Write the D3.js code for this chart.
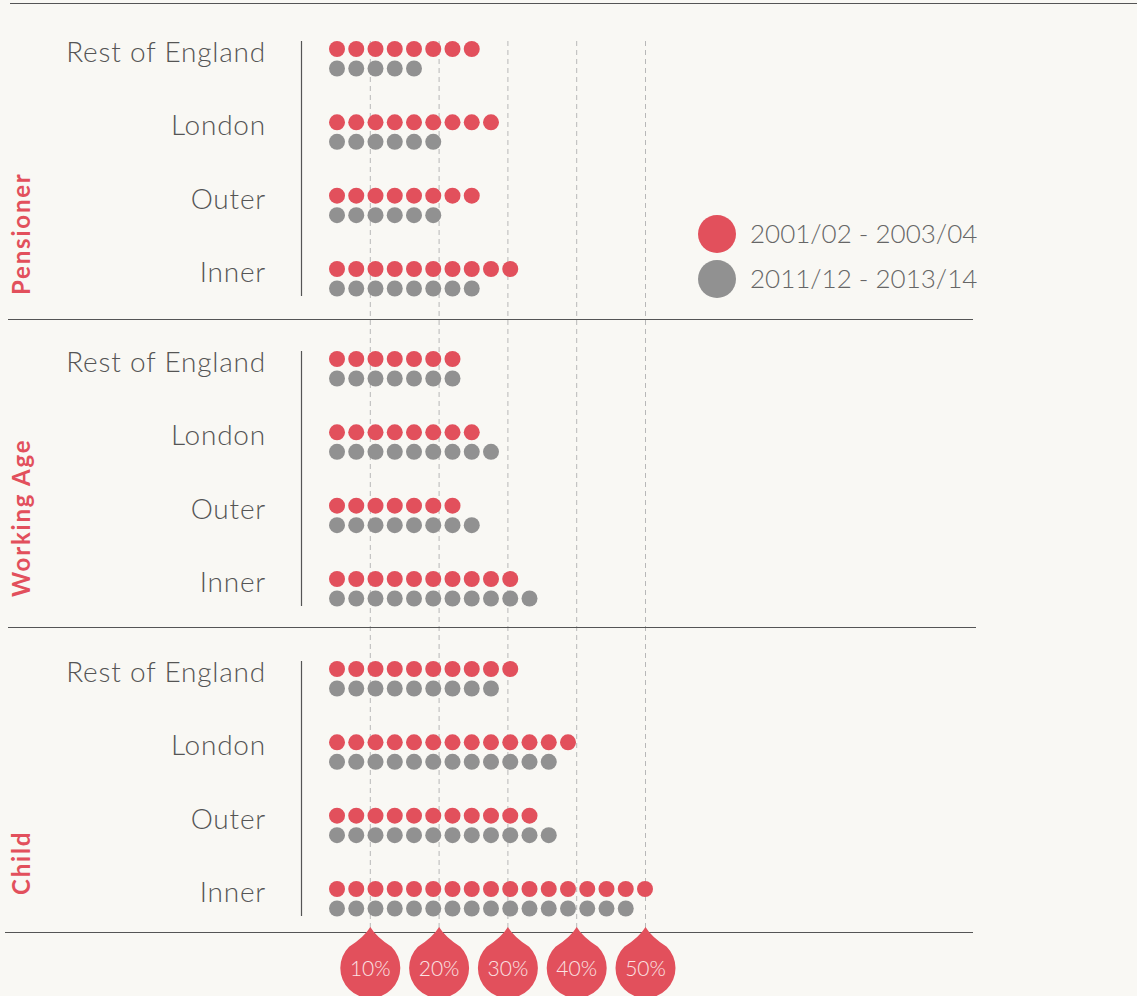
<!DOCTYPE html>
<html>
<head>
<meta charset="utf-8">
<script src="https://cdn.jsdelivr.net/npm/d3@7/dist/d3.min.js"></script>
<style>
  body { margin: 0; background: #f9f8f4; }
  svg { display: block; font-family: Lato, "Open Sans", sans-serif; }
</style>
</head>
<body>
<svg width="1137" height="996"></svg>
<script>
// ---- data ----
var groups = ['Pensioner', 'Working Age', 'Child'];
var regions = ['Rest of England', 'London', 'Outer', 'Inner'];
var periods = ['2001/02 - 2003/04', '2011/12 - 2013/14'];
var percentTicks = [10, 20, 30, 40, 50];

// number of dots per region (Rest of England, London, Outer, Inner)
var pensionerEarly = [8, 9, 8, 10];
var pensionerLate = [5, 6, 6, 8];
var workingEarly = [7, 8, 7, 10];
var workingLate = [7, 9, 8, 11];
var childEarly = [10, 13, 11, 17];
var childLate = [9, 12, 12, 16];

var color = {
  early: '#e2505c',
  late: '#919191',
  line: '#555',
  grid: '#b8b8b8',
  label: '#555',
  legend: '#666'
};

// ---- layout ----
var groupLabelEnd = [295, 597, 895];

var series = [
  [pensionerEarly, pensionerLate],
  [workingEarly, workingLate],
  [childEarly, childLate]
];

var svg = d3.select('svg');

var x = d3.scaleLinear().domain([0, 50]).range([301, 645]);
var dotX = d3.scaleLinear().domain([0, 16]).range([337, 645]);
var groupY = d3.scalePoint().domain(groups).range([0, 620]);
var rowY = d3.scalePoint().domain(regions).range([49, 269]);
var periodY = d3.scalePoint().domain(periods).range([0, 19.5]);

// top rule
svg.append('line').attr('x1', 10).attr('x2', 1137).attr('y1', 3.5).attr('y2', 3.5)
  .attr('stroke', color.line).attr('stroke-width', 1.2);

// dashed grid
svg.selectAll('.grid').data(percentTicks).enter().append('line')
  .attr('class', 'grid')
  .attr('x1', d => x(d) + 0.5).attr('x2', d => x(d) + 0.5)
  .attr('y1', 41).attr('y2', 930)
  .attr('stroke', color.grid).attr('stroke-dasharray', '5,4');

// separators under each group
var sepEnds = [[8, 973], [8, 976], [5, 973]];
groups.forEach(function(g, gi) {
  var oy = groupY(g);
  var gEl = svg.append('g').attr('transform', 'translate(0,' + oy + ')');

  gEl.append('line').attr('x1', 301.5).attr('x2', 301.5).attr('y1', 41).attr('y2', 296)
    .attr('stroke', color.line).attr('stroke-width', 1.2);

  var sepY = [319.5, 627.5, 932.5][gi];
  svg.append('line').attr('x1', sepEnds[gi][0]).attr('x2', sepEnds[gi][1])
    .attr('y1', sepY).attr('y2', sepY)
    .attr('stroke', color.line).attr('stroke-width', 1.2);

  svg.append('text')
    .attr('transform', 'translate(30,' + groupLabelEnd[gi] + ') rotate(-90)')
    .attr('text-anchor', 'start')
    .attr('fill', color.early)
    .attr('font-size', 24).attr('font-weight', 700)
    .attr('letter-spacing', 1.8)
    .text(g);

  regions.forEach(function(r, ri) {
    var ry = rowY(r);
    gEl.append('text')
      .attr('x', 266).attr('y', ry + 13)
      .attr('text-anchor', 'end')
      .attr('fill', color.label)
      .attr('font-size', 28).attr('font-weight', 300)
      .attr('letter-spacing', 0.8)
      .text(r);

    periods.forEach(function(p, pi) {
      var n = series[gi][pi][ri];
      gEl.selectAll(null).data(d3.range(n)).enter().append('circle')
        .attr('cx', d => dotX(d))
        .attr('cy', ry + periodY(p))
        .attr('r', 8)
        .attr('fill', pi === 0 ? color.early : color.late);
    });
  });
});

// percentage drops
var R = 30, dropCy = 968, tipY = 927;
function dropPath(cx) {
  var a = Math.PI / 4;
  var tx = R * Math.sin(a), ty = R * Math.cos(a);
  return 'M' + cx + ',' + tipY +
    'Q' + (cx + 6) + ',' + (tipY + 10) + ' ' + (cx + tx) + ',' + (dropCy - ty) +
    'A' + R + ',' + R + ' 0 1 1 ' + (cx - tx) + ',' + (dropCy - ty) +
    'Q' + (cx - 6) + ',' + (tipY + 10) + ' ' + cx + ',' + tipY + 'Z';
}
var drops = svg.selectAll('.drop').data(percentTicks).enter().append('g').attr('class', 'drop');
drops.append('path').attr('d', d => dropPath(x(d) + 0.5)).attr('fill', color.early);
drops.append('text')
  .attr('x', d => x(d) + 0.5).attr('y', dropCy + 8)
  .attr('text-anchor', 'middle')
  .attr('fill', '#fbe3e4')
  .attr('font-size', 21).attr('font-weight', 300)
  .text(d => d + '%');

// legend
var legend = svg.selectAll('.legend').data(periods).enter().append('g').attr('class', 'legend')
  .attr('transform', (d, i) => 'translate(717,' + (234 + i * 45) + ')');
legend.append('circle').attr('r', 19).attr('fill', (d, i) => i === 0 ? color.early : color.late);
legend.append('text').attr('x', 33).attr('y', 9)
  .attr('fill', color.legend).attr('font-size', 26).attr('font-weight', 300)
  .text(d => d);
</script>
</body>
</html>
